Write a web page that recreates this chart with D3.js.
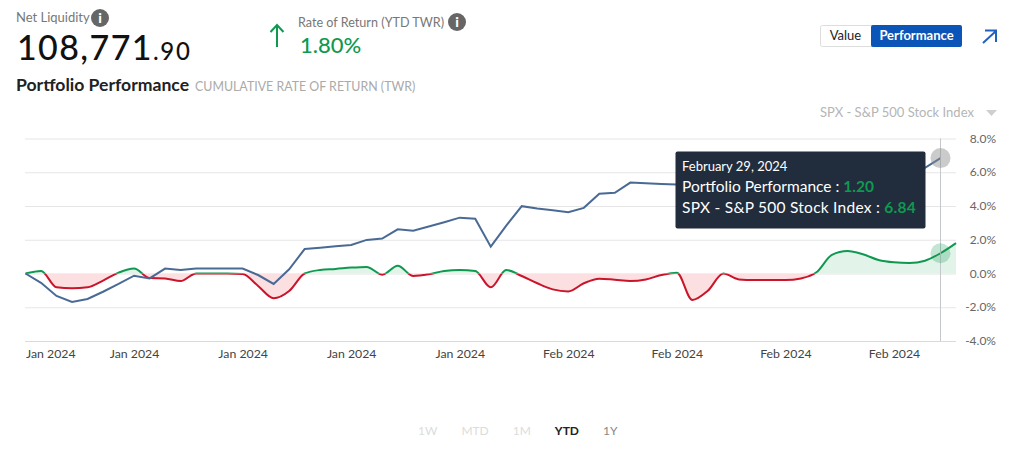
<!DOCTYPE html>
<html>
<head>
<meta charset="utf-8">
<script src="https://cdnjs.cloudflare.com/ajax/libs/d3/7.8.5/d3.min.js"></script>
<style>
  html, body { margin: 0; padding: 0; background: #fff; }
  svg { display: block; }
  text { font-family: Lato, "Open Sans", sans-serif; }
  .axis path { display: none; }
</style>
</head>
<body>
<div id="chart"></div>
<script>
// values, one per day slot (index on the x axis)
var portfolio = [0, 0.15, -0.82, -0.88, -0.82, -0.42, 0.05, 0.29, -0.27, -0.29,
    -0.45, 0, 0, 0, -0.03, -0.74, -1.47, -1.04, 0, 0.21,
    0.27, 0.35, 0.39, -0.07, 0.46, -0.15, -0.05, 0.15, 0.21, 0.15,
    -0.82, 0.21, -0.15, -0.58, -0.94, -1.06, -0.58, -0.31, -0.37, -0.44,
    -0.35, -0.09, 0.05, -1.57, -1.02, 0, -0.35, -0.38, -0.38, -0.38,
    -0.29, 0.07, 1.1, 1.33, 1.14, 0.8, 0.66, 0.62, 0.76, 1.2, 1.8];

// the stretch behind the tooltip is a guess
var spx = [0, -0.55, -1.33, -1.69, -1.51, -1.08, -0.62, -0.13, -0.29, 0.29,
    0.21, 0.29, 0.29, 0.29, 0.29, -0.09, -0.62, 0.25, 1.45, 1.53,
    1.62, 1.69, 1.99, 2.07, 2.62, 2.54, 2.78, 3.04, 3.31, 3.25,
    1.59, 2.84, 3.99, 3.85, 3.75, 3.63, 3.89, 4.72, 4.78, 5.39,
    5.35, 5.31, 5.27, 5.25, 5.4, 5.55, 5.5, 5.65, 5.75, 5.85,
    5.95, 6.05, 5.95, 6.1, 6.05, 6.2, 6.1, 6.0, 6.26, 6.84];

var tickIndex = [0, 7, 14, 21, 28, 35, 42, 49, 56];
var tickLabels = ["Jan 2024", "Jan 2024", "Jan 2024", "Jan 2024", "Jan 2024",
    "Feb 2024", "Feb 2024", "Feb 2024", "Feb 2024"];
var yTicks = [-4, -2, 0, 2, 4, 6, 8];
var ranges = ["1W", "MTD", "1M", "YTD", "1Y"];
var hoverIndex = 59;

var width = 1017, height = 452;
var green = "#0f9950", red = "#c9142b", blue = "#4a6a96";

var svg = d3.select("#chart").append("svg")
    .attr("width", width)
    .attr("height", height);

var x = d3.scaleLinear().domain([0, 60]).range([25.5, 956]);
var y = d3.scaleLinear().domain([-4, 8]).range([341, 138.5]);

// grid lines and y labels
var yAxis = svg.append("g")
    .attr("class", "axis")
    .attr("transform", "translate(956,0)")
    .call(d3.axisLeft(y).tickValues(yTicks).tickSize(931).tickFormat(""));
yAxis.selectAll("line").attr("stroke", function (d) {
    return d === -4 ? "#d3dce6" : "#e6e6e6";
});

svg.append("g").selectAll("text")
    .data(yTicks)
    .enter().append("text")
    .attr("x", 996)
    .attr("y", function (d) { return y(d) + 4; })
    .attr("text-anchor", "end")
    .attr("font-size", 12)
    .attr("fill", "#666")
    .text(function (d) { return d.toFixed(1) + "%"; }); // plain hyphen, like the original

// x axis labels, the first one is pushed inside the chart
var xAxis = svg.append("g")
    .attr("class", "axis")
    .attr("transform", "translate(0,341)")
    .call(d3.axisBottom(x).tickValues(tickIndex).tickSize(0).tickPadding(8)
        .tickFormat(function (d, i) { return tickLabels[i]; }));
xAxis.selectAll("text")
    .attr("font-family", "Lato, 'Open Sans', sans-serif")
    .attr("font-size", 12.3)
    .attr("fill", "#444")
    .attr("text-anchor", function (d) { return d === 0 ? "start" : "middle"; });

// clip the portfolio line in two at zero
var defs = svg.append("defs");
defs.append("clipPath").attr("id", "above").append("rect")
    .attr("x", 0).attr("y", 0).attr("width", width).attr("height", y(0));
defs.append("clipPath").attr("id", "below").append("rect")
    .attr("x", 0).attr("y", y(0)).attr("width", width).attr("height", height - y(0));

var area = d3.area()
    .x(function (d, i) { return x(i); })
    .y0(y(0))
    .y1(function (d) { return y(d); })
    .curve(d3.curveMonotoneX);
var line = d3.line()
    .x(function (d, i) { return x(i); })
    .y(function (d) { return y(d); })
    .curve(d3.curveMonotoneX);

[["above", green, "#e2f3e9"], ["below", red, "#fbdfe1"]].forEach(function (s) {
    var g = svg.append("g").attr("clip-path", "url(#" + s[0] + ")");
    g.append("path").datum(portfolio).attr("d", area).attr("fill", s[2]);
    g.append("path").datum(portfolio).attr("d", line)
        .attr("fill", "none").attr("stroke", s[1]).attr("stroke-width", 2);
});

svg.append("path").datum(spx)
    .attr("d", d3.line()
        .x(function (d, i) { return x(i); })
        .y(function (d) { return y(d); }))
    .attr("fill", "none")
    .attr("stroke", blue)
    .attr("stroke-width", 2);

// hover state
var hx = x(hoverIndex);
svg.append("line")
    .attr("x1", hx).attr("x2", hx)
    .attr("y1", y(8)).attr("y2", y(-4))
    .attr("stroke", "#c4c8cc");
svg.append("circle")
    .attr("cx", hx).attr("cy", y(spx[hoverIndex])).attr("r", 10)
    .attr("fill", "#8c8c8c").attr("opacity", 0.45);
svg.append("circle")
    .attr("cx", hx).attr("cy", y(portfolio[hoverIndex])).attr("r", 10)
    .attr("fill", green).attr("opacity", 0.25);

// tooltip
var tip = svg.append("g");
tip.append("rect")
    .attr("x", 675.5).attr("y", 151.5).attr("width", 250).attr("height", 77).attr("rx", 2)
    .attr("fill", "#212c3d");
tip.append("text").attr("x", 682).attr("y", 171)
    .attr("font-size", 13).attr("fill", "#fff").text("February 29, 2024");
var t1 = tip.append("text").attr("x", 682).attr("y", 192).attr("font-size", 15.5).attr("fill", "#fff");
t1.append("tspan").text("Portfolio Performance : ");
t1.append("tspan").attr("fill", green).attr("font-weight", 700).text("1.20");
var t2 = tip.append("text").attr("x", 682).attr("y", 213).attr("font-size", 15.5)
    .attr("letter-spacing", 0.25).attr("fill", "#fff");
t2.append("tspan").text("SPX - S&P 500 Stock Index : ");
t2.append("tspan").attr("fill", green).attr("font-weight", 700).text("6.84");

// header
function infoIcon(cx, cy) {
    svg.append("circle").attr("cx", cx).attr("cy", cy).attr("r", 9).attr("fill", "#666");
    svg.append("text").attr("x", cx).attr("y", cy + 5).attr("text-anchor", "middle")
        .attr("font-size", 14).attr("font-weight", 900).attr("fill", "#fff").text("i");
}

svg.append("text").attr("x", 16).attr("y", 22)
    .attr("font-size", 13).attr("fill", "#777").text("Net Liquidity");
infoIcon(100, 18);

var big = svg.append("text").attr("x", 17).attr("y", 60)
    .attr("font-family", "Inter, sans-serif").attr("letter-spacing", 1.4).attr("fill", "#111");
big.append("tspan").attr("font-size", 34).attr("font-weight", 500).text("108,771");
big.append("tspan").attr("font-size", 24).attr("font-weight", 500).attr("letter-spacing", 1.8).text(".90");

svg.append("path")
    .attr("d", "M277 47V25M270.5 32L277 25L283.5 32")
    .attr("fill", "none").attr("stroke", green).attr("stroke-width", 2);
svg.append("text").attr("x", 298).attr("y", 27)
    .attr("font-size", 12.6).attr("fill", "#777").text("Rate of Return (YTD TWR)");
infoIcon(457, 22);
svg.append("text").attr("x", 300).attr("y", 53)
    .attr("font-size", 22).attr("font-weight", 500).attr("fill", green).text("1.80%");

svg.append("text").attr("x", 16).attr("y", 91)
    .attr("font-size", 17.6).attr("font-weight", 700).attr("fill", "#222").text("Portfolio Performance");
svg.append("text").attr("x", 195).attr("y", 91)
    .attr("font-size", 12.4).attr("fill", "#aaa").text("CUMULATIVE RATE OF RETURN (TWR)");

// Value / Performance switch
svg.append("rect").attr("x", 820.5).attr("y", 25.5).attr("width", 60).attr("height", 21).attr("rx", 2)
    .attr("fill", "#fff").attr("stroke", "#ddd");
svg.append("rect").attr("x", 871).attr("y", 25).attr("width", 91).attr("height", 22).attr("rx", 2)
    .attr("fill", "#0b55b8");
svg.append("text").attr("x", 845.5).attr("y", 40).attr("text-anchor", "middle")
    .attr("font-size", 13).attr("fill", "#222").text("Value");
svg.append("text").attr("x", 916.5).attr("y", 40).attr("text-anchor", "middle")
    .attr("font-size", 13).attr("font-weight", 700).attr("fill", "#fff").text("Performance");
svg.append("path")
    .attr("d", "M983 43L996 31M985 30.5H996V42")
    .attr("fill", "none").attr("stroke", "#1f62c0").attr("stroke-width", 2);

// benchmark selector
svg.append("text").attr("x", 820).attr("y", 117)
    .attr("font-size", 13).attr("fill", "#b5b5b5").text("SPX - S&P 500 Stock Index");
svg.append("path").attr("d", "M986 110H997L991.5 116Z").attr("fill", "#cfcfcf");

// range selector, labels flow with a constant gap between them
var rangeLeft = 418;
svg.append("g").selectAll("text")
    .data(ranges)
    .enter().append("text")
    .attr("y", 435)
    .attr("font-size", 12)
    .attr("font-weight", function (d) { return d === "YTD" ? 700 : 400; })
    .attr("fill", function (d) {
        if (d === "YTD") return "#222";
        return d === "1Y" ? "#888" : "#dcdcdc";
    })
    .text(function (d) { return d; })
    .attr("x", function () {
        var left = rangeLeft;
        rangeLeft += this.getComputedTextLength() + 24;
        return left;
    });
</script>
</body>
</html>
